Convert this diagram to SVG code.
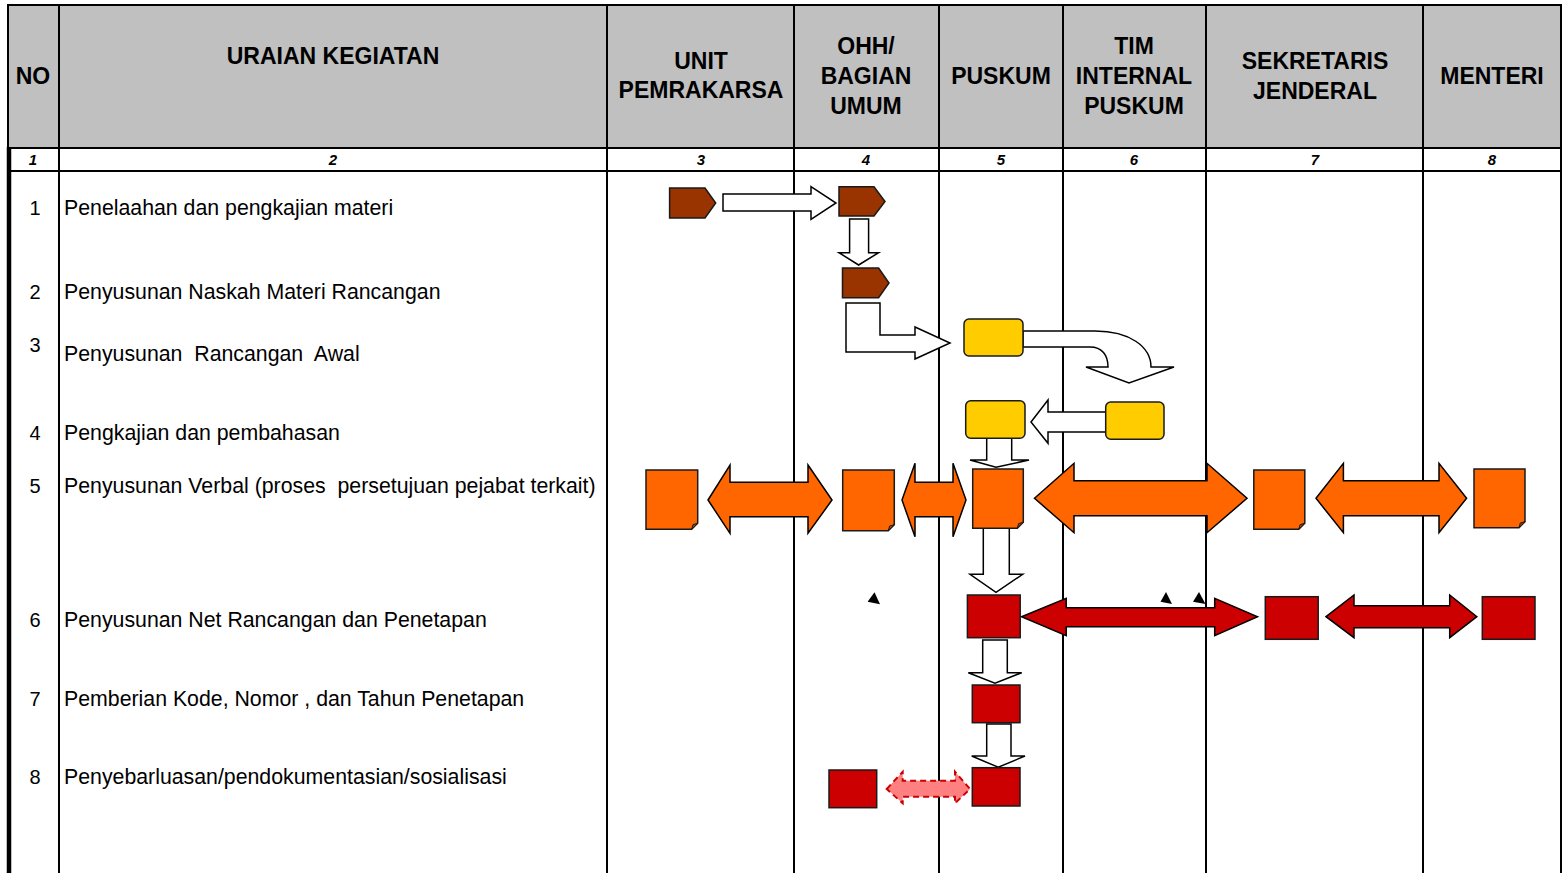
<svg xmlns="http://www.w3.org/2000/svg" width="1564" height="873" viewBox="0 0 1564 873">
<style>
.hd{font-family:"Liberation Sans",Arial,sans-serif;font-weight:bold;font-size:23px;fill:#000;text-anchor:middle}
.num{font-family:"Liberation Sans",Arial,sans-serif;font-weight:bold;font-style:italic;font-size:15px;fill:#000;text-anchor:middle}
.tx{font-family:"Liberation Sans",Arial,sans-serif;font-size:21.3px;fill:#000;white-space:pre}
.rn{font-family:"Liberation Sans",Arial,sans-serif;font-size:20px;fill:#000;text-anchor:middle}
.ln{stroke:#000;stroke-width:2;fill:none}
.brown{fill:#993300;stroke:#1a1a1a;stroke-width:1.5}
.org{fill:#FF6600;stroke:#1a1a1a;stroke-width:1.5}
.fold{fill:#A84400;stroke:#1a1a1a;stroke-width:1}
.red{fill:#CC0000;stroke:#1a1a1a;stroke-width:1.5}
.yel{fill:#FFCC00;stroke:#1a1a1a;stroke-width:1.5}
.wa{fill:#fff;stroke:#000;stroke-width:1.5;stroke-linejoin:miter}
.oa{fill:#FF6600;stroke:#000;stroke-width:1.5}
.ra{fill:#CC0000;stroke:#000;stroke-width:1.5}
.da{fill:#FF8080;stroke:#CC0000;stroke-width:2;stroke-dasharray:6,4}
.tri{fill:#000}
</style>
<rect width="1564" height="873" fill="#fff"/>
<g id="table">
<rect x="8" y="5" width="1553" height="143" fill="#C0C0C0"/>
<line class="ln" x1="7" y1="5" x2="1562" y2="5" stroke-width="2.5"/>
<line class="ln" x1="8" y1="148" x2="1562" y2="148" stroke-width="2.5"/>
<line class="ln" x1="8" y1="171" x2="1562" y2="171" stroke-width="2.5"/>
<line class="ln" x1="8" y1="5" x2="8" y2="148"/>
<line x1="9" y1="147" x2="9" y2="873" stroke="#000" stroke-width="4.5"/>
<line class="ln" x1="59" y1="5" x2="59" y2="873"/>
<line class="ln" x1="607" y1="5" x2="607" y2="873"/>
<line class="ln" x1="794" y1="5" x2="794" y2="873"/>
<line class="ln" x1="939" y1="5" x2="939" y2="873"/>
<line class="ln" x1="1063" y1="5" x2="1063" y2="873"/>
<line class="ln" x1="1206" y1="5" x2="1206" y2="873"/>
<line class="ln" x1="1423" y1="5" x2="1423" y2="873"/>
<line class="ln" x1="1561" y1="5" x2="1561" y2="873"/>
</g>
<g id="header">
<text class="hd" x="33" y="84">NO</text>
<text class="hd" x="333" y="64">URAIAN KEGIATAN</text>
<text class="hd" x="701" y="69">UNIT</text>
<text class="hd" x="701" y="98">PEMRAKARSA</text>
<text class="hd" x="866" y="54">OHH/</text>
<text class="hd" x="866" y="84">BAGIAN</text>
<text class="hd" x="866" y="114">UMUM</text>
<text class="hd" x="1001" y="84">PUSKUM</text>
<text class="hd" x="1134" y="54">TIM</text>
<text class="hd" x="1134" y="84">INTERNAL</text>
<text class="hd" x="1134" y="114">PUSKUM</text>
<text class="hd" x="1315" y="69">SEKRETARIS</text>
<text class="hd" x="1315" y="99">JENDERAL</text>
<text class="hd" x="1492" y="84">MENTERI</text>
<text class="num" x="33" y="164.5">1</text>
<text class="num" x="333" y="164.5">2</text>
<text class="num" x="701" y="164.5">3</text>
<text class="num" x="866" y="164.5">4</text>
<text class="num" x="1001" y="164.5">5</text>
<text class="num" x="1134" y="164.5">6</text>
<text class="num" x="1315" y="164.5">7</text>
<text class="num" x="1492" y="164.5">8</text>
</g>
<g id="rows">
<text class="rn" x="35" y="215">1</text>
<text class="tx" x="64" y="215">Penelaahan dan pengkajian materi</text>
<text class="rn" x="35" y="299">2</text>
<text class="tx" x="64" y="299">Penyusunan Naskah Materi Rancangan</text>
<text class="rn" x="35" y="352">3</text>
<text class="tx" x="64" y="361">Penyusunan  Rancangan  Awal</text>
<text class="rn" x="35" y="440">4</text>
<text class="tx" x="64" y="440">Pengkajian dan pembahasan</text>
<text class="rn" x="35" y="493">5</text>
<text class="tx" x="64" y="493">Penyusunan Verbal (proses  persetujuan pejabat terkait)</text>
<text class="rn" x="35" y="627">6</text>
<text class="tx" x="64" y="627">Penyusunan Net Rancangan dan Penetapan</text>
<text class="rn" x="35" y="706">7</text>
<text class="tx" x="64" y="706">Pemberian Kode, Nomor , dan Tahun Penetapan</text>
<text class="rn" x="35" y="784">8</text>
<text class="tx" x="64" y="784">Penyebarluasan/pendokumentasian/sosialisasi</text>
</g>
<g id="connectors">
<polygon class="wa" points="723,194 811,194 811,186.7 836,203 811,219.3 811,211 723,211"/>
<polygon class="wa" points="849.6,219 868.6,219 868.6,252.7 878.6,252.7 858.6,265 839,252.7 849.6,252.7"/>
<polygon class="wa" points="846,303 880,303 880,335 915,335 915,327 950,343 915,359 915,352 846,352"/>
<path class="wa" d="M1023,331 L1095,331 C1130,331 1151,347 1151,367 L1174,367 L1129,383 L1086,367 L1108,367 C1108,355 1102,347 1090,347 L1023,347 Z"/>
<polygon class="wa" points="1031,422 1048,400 1048,412 1106,412 1106,432 1048,432 1048,443.3"/>
<polygon class="wa" points="986.7,438.3 1011.7,438.3 1011.7,460 1029,460 996,467.3 970,460 986.7,460"/>
<polygon class="wa" points="983.3,527.7 1009.3,527.7 1009.3,574.3 1022.7,574.3 996,592.3 970,574.3 983.3,574.3"/>
<polygon class="oa" points="708,500 730,465 730,482.3 808,482.3 808,465 832,500 808,533.3 808,516.7 730,516.7 730,533.3"/>
<polygon class="oa" points="902,500 915,463.3 915,482.3 953,482.3 953,463.3 966,500 953,536.7 953,516.7 915,516.7 915,536.7"/>
<polygon class="oa" points="1034.5,498.3 1074,463.3 1074,480.7 1207,480.7 1207,463.3 1247,498.3 1207,532.7 1207,515.7 1074,515.7 1074,532.7"/>
<polygon class="oa" points="1316,498.3 1343.4,463.3 1343.4,480.7 1439,480.7 1439,463.3 1466.6,498.3 1439,532.7 1439,515.7 1343.4,515.7 1343.4,532.7"/>
<polygon class="ra" points="1021.6,616.7 1066.2,598.3 1066.2,607.7 1214.7,607.7 1214.7,598.3 1257.5,616.7 1214.7,635.7 1214.7,626.7 1066.2,626.7 1066.2,635.7"/>
<polygon class="ra" points="1326,616.7 1354,595 1354,605.7 1449.7,605.7 1449.7,595 1476.8,616.7 1449.7,637.7 1449.7,627.7 1354,627.7 1354,637.7"/>
<polygon class="wa" points="982.7,640 1007.3,640 1007.3,672.7 1021.7,672.7 995,683.3 968.3,672.7 982.7,672.7"/>
<polygon class="wa" points="986.7,724 1011,724 1011,756 1025,756 998.3,767.3 971.7,756 986.7,756"/>
<polygon class="da" points="886.7,789 902.7,771.7 902.7,780.7 955,780.7 955,771.7 970,789 955,803.3 955,796.7 902.7,796.7 902.7,803.3"/>
<polygon class="tri" points="874.5,592.3 867.6,601.7 880,604.3"/>
<polygon class="tri" points="1166,592 1160.5,601.7 1172,604"/>
<polygon class="tri" points="1199,592 1193,601.7 1205.5,604"/>
</g>
<g id="n1a"><polygon class="brown" points="669.6,188 705,188 715.7,203 705,218 669.6,218"/></g>
<g id="n1b"><polygon class="brown" points="839,186.7 874,186.7 885,201.5 874,216 839,216"/></g>
<g id="n2"><polygon class="brown" points="842.5,268 878.6,268 889,283 878.6,297.7 842.5,297.7"/></g>
<g id="n3"><rect class="yel" x="964" y="319" width="59" height="37" rx="5"/></g>
<g id="n4a"><rect class="yel" x="965.7" y="400.7" width="59.3" height="37.6" rx="5"/></g>
<g id="n4b"><rect class="yel" x="1105.7" y="402" width="58.3" height="37.3" rx="5"/></g>
<g id="n5a"><polygon class="org" points="646,470 697.7,470 697.7,523.3 691.7,529.3 646,529.3"/><polygon class="fold" points="691.7,529.3 693,524.6 697.7,523.3"/></g>
<g id="n5b"><polygon class="org" points="842.7,470 894.3,470 894.3,524.7 888.3,530.7 842.7,530.7"/><polygon class="fold" points="888.3,530.7 889.6,526 894.3,524.7"/></g>
<g id="n5c"><polygon class="org" points="972.7,469 1023.3,469 1023.3,522.3 1017.3,528.3 972.7,528.3"/><polygon class="fold" points="1017.3,528.3 1018.6,523.6 1023.3,522.3"/></g>
<g id="n5d"><polygon class="org" points="1253.8,470 1304.8,470 1304.8,523.3 1298.8,529.3 1253.8,529.3"/><polygon class="fold" points="1298.8,529.3 1300.1,524.6 1304.8,523.3"/></g>
<g id="n5e"><polygon class="org" points="1474,469 1525,469 1525,521.7 1519,527.7 1474,527.7"/><polygon class="fold" points="1519,527.7 1520.3,523 1525,521.7"/></g>
<g id="n6a"><rect class="red" x="967.4" y="595" width="52.8" height="42.7"/></g>
<g id="n6b"><rect class="red" x="1265.3" y="596.7" width="52.9" height="42.6"/></g>
<g id="n6c"><rect class="red" x="1482.3" y="596.7" width="52.7" height="42.6"/></g>
<g id="n7"><rect class="red" x="972.3" y="685" width="47.7" height="37.7"/></g>
<g id="n8a"><rect class="red" x="972.3" y="767.7" width="47.7" height="38.3"/></g>
<g id="n8b"><rect class="red" x="829" y="770" width="47.7" height="37.7"/></g>
</svg>
